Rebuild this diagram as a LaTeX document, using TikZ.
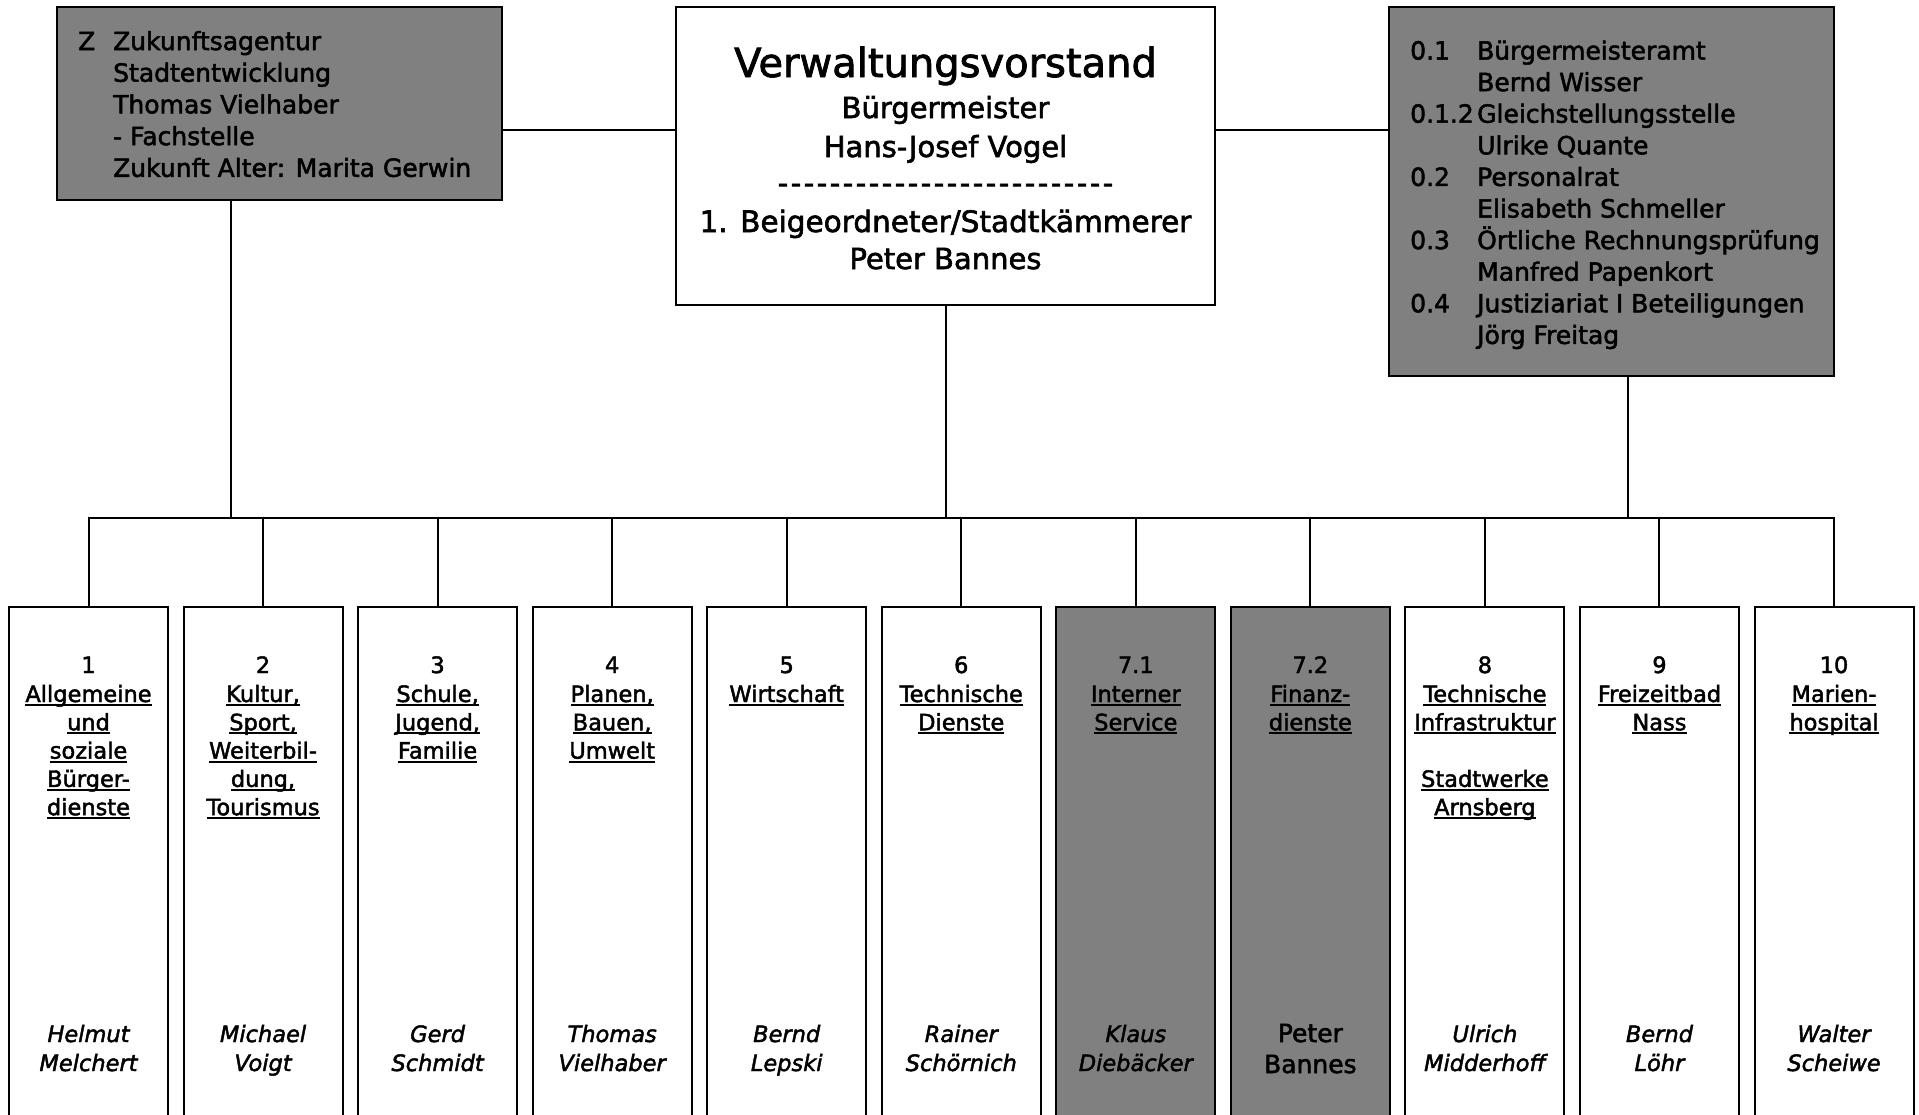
\documentclass[tikz,border=0pt]{standalone}
\usepackage{fontspec}
\setmainfont{DejaVu Sans}[FakeBold=2]
\definecolor{grayf}{HTML}{808080}
\newcommand\ulx[1]{\setbox0\hbox{#1}\rlap{\rule[-4pt]{\wd0}{2pt}}\box0}
\newcommand\ctr[2]{\vtop{\baselineskip=#1\lineskiplimit=-100pt\halign{\hfil##\hfil\cr#2\crcr}}}
\newcommand\twocol[3]{\vtop{\baselineskip=#1\lineskiplimit=-100pt\halign{\hbox to #2{##\hfil}&##\hfil\cr#3\crcr}}}
\newcommand\nmit[2]{\vtop{\baselineskip=29pt\lineskiplimit=-100pt\halign{\hfil\itshape##\hfil\cr#1\cr#2\crcr}}}
\newcommand\nmup[2]{\vtop{\baselineskip=31pt\lineskiplimit=-100pt\fontsize{25}{31}\selectfont\halign{\hfil##\hfil\cr#1\cr#2\crcr}}}
\tikzset{
  box/.style={draw, line width=2pt, inner sep=0pt, outer sep=0pt, anchor=north west},
  dbox/.style={draw, line width=2pt, inner sep=0pt, outer sep=0pt, anchor=north, minimum width=159pt, minimum height=560pt},
  lbl/.style={inner sep=0pt, outer sep=0pt, font=\fontsize{22.5}{28}\selectfont},
  conn/.style={line width=2pt},
}
\newcommand\dept[6]{%
  \node[dbox, fill=#3] (#1) at (#2,607) {};
  \node[lbl, anchor=base] (#1nr) at (#2,673) {#4};
  \node[lbl, anchor=base] (#1ti) at (#2,702) {\ctr{28.3pt}{#5}};
  \node[lbl, anchor=base] (#1pn) at (#2,1042) {#6};
}
\begin{document}
\begin{tikzpicture}[x=1pt, y=-1pt]
\useasboundingbox (0,0) rectangle (1919,1114);
\clip (0,0) rectangle (1919,1114);
\fill[white] (0,0) rectangle (1919,1114);

% top boxes
\node[box, fill=grayf, minimum width=445pt, minimum height=193pt] (z) at (57,7) {};
\node[box, fill=white, minimum width=539pt, minimum height=298pt] (vv) at (676,7) {};
\node[box, fill=grayf, minimum width=445pt, minimum height=369pt] (rb) at (1389,7) {};

\node[inner sep=0pt, anchor=base west, font=\fontsize{25}{31}\selectfont] (zt) at (78,50)
  {\twocol{31.7pt}{35pt}{Z&Zukunftsagentur\cr&Stadtentwicklung\cr&Thomas Vielhaber\cr&- Fachstelle\cr&Zukunft Alter: Marita Gerwin}};

\node[inner sep=0pt, anchor=base west, font=\fontsize{25}{31}\selectfont] (rt) at (1410,59.5)
  {\twocol{31.6pt}{67pt}{0.1&Bürgermeisteramt\cr&Bernd Wisser\cr0.1.2&Gleichstellungsstelle\cr&Ulrike Quante\cr0.2&Personalrat\cr&Elisabeth Schmeller\cr0.3&Örtliche Rechnungsprüfung\cr&Manfred Papenkort\cr0.4&Justiziariat I Beteiligungen\cr&Jörg Freitag}};

\node[inner sep=0pt, anchor=base, font=\fontsize{40}{48}\selectfont] (vt1) at (945.5,77) {Verwaltungsvorstand};
\node[inner sep=0pt, anchor=base, font=\fontsize{29}{38}\selectfont] (vt2) at (945.5,118) {Bürgermeister};
\node[inner sep=0pt, anchor=base, font=\fontsize{29}{38}\selectfont] (vt3) at (945.5,157) {Hans-Josef Vogel};
\node[inner sep=0pt, anchor=base, font=\fontsize{29}{38}\selectfont] (vt4) at (945.5,193) {\hbox to 338pt{\xleaders\hbox to 13pt{\hss-\hss}\hfil}};
\node[inner sep=0pt, anchor=base, font=\fontsize{29.5}{38}\selectfont] (vt5) at (945.5,232) {1. Beigeordneter/Stadtkämmerer};
\node[inner sep=0pt, anchor=base, font=\fontsize{29}{38}\selectfont] (vt6) at (945.5,269) {Peter Bannes};

% department boxes
\dept{d1}{88.5}{white}{1}{\ulx{Allgemeine}\cr\ulx{und}\cr\ulx{soziale}\cr\ulx{Bürger-}\cr\ulx{dienste}}{\nmit{Helmut}{Melchert}}
\dept{d2}{263.05}{white}{2}{\ulx{Kultur,}\cr\ulx{Sport,}\cr\ulx{Weiterbil-}\cr\ulx{dung,}\cr\ulx{Tourismus}}{\nmit{Michael}{Voigt}}
\dept{d3}{437.6}{white}{3}{\ulx{Schule,}\cr\ulx{Jugend,}\cr\ulx{Familie}}{\nmit{Gerd}{Schmidt}}
\dept{d4}{612.15}{white}{4}{\ulx{Planen,}\cr\ulx{Bauen,}\cr\ulx{Umwelt}}{\nmit{Thomas}{Vielhaber}}
\dept{d5}{786.7}{white}{5}{\ulx{Wirtschaft}}{\nmit{Bernd}{Lepski}}
\dept{d6}{961.25}{white}{6}{\ulx{Technische}\cr\ulx{Dienste}}{\nmit{Rainer}{Schörnich}}
\dept{d7}{1135.8}{grayf}{7.1}{\ulx{Interner}\cr\ulx{Service}}{\nmit{Klaus}{Diebäcker}}
\dept{d8}{1310.35}{grayf}{7.2}{\ulx{Finanz-}\cr\ulx{dienste}}{\nmup{Peter}{Bannes}}
\dept{d9}{1484.9}{white}{8}{\ulx{Technische}\cr\ulx{Infrastruktur}\cr\cr\ulx{Stadtwerke}\cr\ulx{Arnsberg}}{\nmit{Ulrich}{Midderhoff}}
\dept{d10}{1659.45}{white}{9}{\ulx{Freizeitbad}\cr\ulx{Nass}}{\nmit{Bernd}{Löhr}}
\dept{d11}{1834}{white}{10}{\ulx{Marien-}\cr\ulx{hospital}}{\nmit{Walter}{Scheiwe}}

% connectors
\coordinate (bus) at (0,518);
\coordinate (zc) at ([yshift=70pt]z.south east);
\draw[conn] (zc) -- (zc -| vv.west);
\draw[conn] (vv.east |- zc) -- (zc -| rb.west);
\coordinate (zd) at ([xshift=174pt]z.south west);
\coordinate (rd) at ([xshift=239pt]rb.south west);
\draw[conn] (zd) -- (zd |- bus);
\draw[conn] (vv.south) -- (vv.south |- bus);
\draw[conn] (rd) -- (rd |- bus);
\draw[conn] (d1.north) -- (d1.north |- bus) -- (d11.north |- bus) -- (d11.north);
\foreach \k in {2,...,10} { \draw[conn] (d\k.north) -- (d\k.north |- bus); }
\end{tikzpicture}
\end{document}
